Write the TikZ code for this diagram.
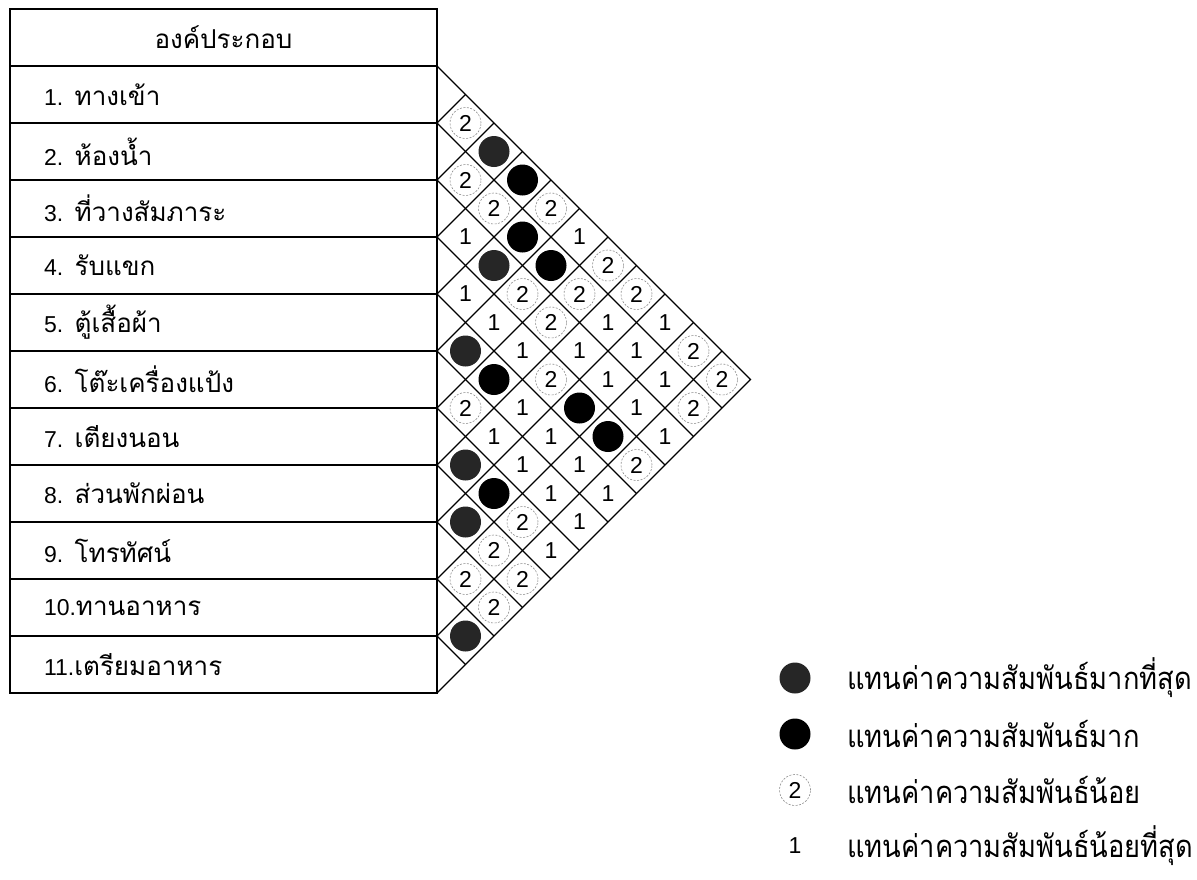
\documentclass[tikz,border=0pt]{standalone}
\usepackage{fontspec}
\setmainfont{Liberation Sans}
\newfontfamily\thai[Script=Thai,Scale=1.13]{Loma}
\newfontfamily\thailg[Script=Thai,FakeStretch=0.88]{Loma}
\usetikzlibrary{positioning}

\begin{document}
\begin{tikzpicture}[x=1pt, y=-1pt,
    rowbox/.style={rectangle, draw, line width=1.3pt, minimum width=427pt,
                   minimum height=57pt, inner xsep=34pt, text width=359pt,
                   align=left, font=\fontsize{23}{27}\selectfont},
    hdr/.style={rowbox, align=center},
    grid/.style={line width=1.3pt},
    one/.style={circle, minimum size=31pt, inner sep=0pt,
                font=\fontsize{23}{27}\selectfont},
    two/.style={one, draw=black!45, line width=0.6pt,
                dash pattern=on 2pt off 1.5pt},
    much/.style={one, fill=black},
    most/.style={one, fill=black!85},
    lgtext/.style={anchor=west, inner sep=0pt,
                   font=\fontsize{31}{36}\selectfont\thailg}
]
\useasboundingbox (0,0) rectangle (1197,879);

% table of components
\node[hdr] (h) at (223.5,37.5) {\thai องค์ประกอบ};
\foreach \i/\n in {1/{1. \thai ทางเข้า}, 2/{2. \thai ห้องน้ำ},
    3/{3. \thai ที่วางสัมภาระ}, 4/{4. \thai รับแขก}, 5/{5. \thai ตู้เสื้อผ้า},
    6/{6. \thai โต๊ะเครื่องแป้ง}, 7/{7. \thai เตียงนอน},
    8/{8. \thai ส่วนพักผ่อน}, 9/{9. \thai โทรทัศน์},
    10/{10.\thai ทานอาหาร}, 11/{11.\thai เตรียมอาหาร}}
  \node[rowbox] (r\i) at (223.5,{37.5+57*\i}) {\n};

% diagonal grid
\foreach \k in {0,...,11} \coordinate (b\k) at (437,{66+57*\k});
\coordinate (tip) at (750.5,379.5);
\draw[grid] (b0) -- (tip) -- (b11);
\foreach \k in {1,...,10} {
  \draw[grid] (b\k) -- ++({28.5*(11-\k)},{28.5*(11-\k)});
  \draw[grid] (b\k) -- ++({28.5*\k},{-28.5*\k});
}

% relation values
\foreach \i/\j/\s/\t in {
    1/3/most/, 3/5/most/, 5/6/most/, 7/8/most/, 8/9/most/, 10/11/most/,
    1/4/much/, 2/5/much/, 2/6/much/, 5/7/much/, 4/9/much/, 4/10/much/, 7/9/much/,
    1/2/two/2, 2/3/two/2, 6/7/two/2, 9/10/two/2, 2/4/two/2, 8/10/two/2,
    9/11/two/2, 3/6/two/2, 7/10/two/2, 8/11/two/2, 1/5/two/2, 3/7/two/2,
    4/8/two/2, 2/7/two/2, 1/7/two/2, 1/8/two/2, 4/11/two/2, 1/10/two/2,
    2/11/two/2, 1/11/two/2,
    3/4/one/1, 4/5/one/1, 4/6/one/1, 6/8/one/1, 4/7/one/1, 5/8/one/1,
    6/9/one/1, 5/9/one/1, 6/10/one/1, 7/11/one/1, 1/6/one/1, 3/8/one/1,
    5/10/one/1, 6/11/one/1, 2/8/one/1, 3/9/one/1, 5/11/one/1, 2/9/one/1,
    3/10/one/1, 1/9/one/1, 2/10/one/1, 3/11/one/1}
  \node[\s] (c\i-\j) at ({437+28.5*(\j-\i)},{37.5+28.5*(\i+\j)}) {\t};

% legend
\node[most] (lg1) at (795,678) {};
\node[much] (lg2) at (795,734) {};
\node[two]  (lg3) at (795,790) {2};
\node[one]  (lg4) at (795,846) {1};
\node[lgtext] (lt1) at (847,678) {แทนค่าความสัมพันธ์มากที่สุด};
\node[lgtext] (lt2) at (847,734) {แทนค่าความสัมพันธ์มาก};
\node[lgtext] (lt3) at (847,790) {แทนค่าความสัมพันธ์น้อย};
\node[lgtext] (lt4) at (847,846) {แทนค่าความสัมพันธ์น้อยที่สุด};
\end{tikzpicture}
\end{document}
